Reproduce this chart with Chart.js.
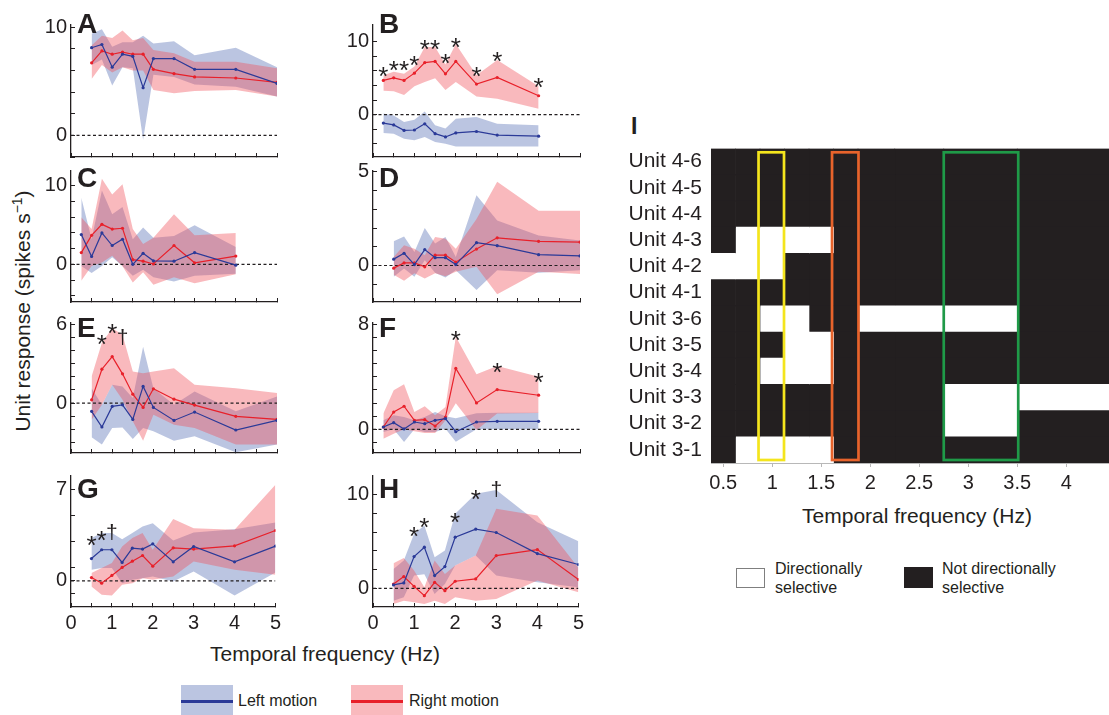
<!DOCTYPE html>
<html>
<head>
<meta charset="utf-8">
<script src="https://cdn.jsdelivr.net/npm/chart.js@4.4.1/dist/chart.umd.min.js"></script>
<style>
  body { margin: 0; background: #fff; }
  #fig { position: relative; width: 1109px; height: 715px; overflow: hidden; background: #fff;
         font-family: "Liberation Sans", Arial, Helvetica, sans-serif; color: #231f20; }
  #fig canvas, .txt, .swatch { position: absolute; }
  .txt { white-space: nowrap; }
  #ytitle { left: 22px; top: 311px; font-size: 21px; line-height: 21px; transform: translate(-50%, -50%) rotate(-90deg); }
  #ytitle sup { font-size: 14px; line-height: 0; vertical-align: 8px; }
  .xtitle { font-size: 21px; line-height: 21px; transform: translateX(-50%); }
  .leg { font-size: 16px; line-height: 20px; }
  .legline { position: absolute; left: 0; right: 0; top: 15px; height: 3px; }
</style>
</head>
<body>
<div id="fig">
  <div class="txt" id="ytitle">Unit response (spikes s<sup>−1</sup>)</div>
  <div class="txt xtitle" style="left:325px; top:643px;">Temporal frequency (Hz)</div>
  <div class="txt xtitle" style="left:917px; top:505px;">Temporal frequency (Hz)</div>
  <div class="txt" style="left:631px; top:115px; font-size:23px; line-height:23px; font-weight:bold;">I</div>

  <div class="swatch" style="left:181px; top:685px; width:52px; height:30px; background:rgba(60,90,170,0.35);">
    <div class="legline" style="background:#2b3a98;"></div>
  </div>
  <div class="txt leg" style="left:238px; top:691px;">Left motion</div>
  <div class="swatch" style="left:351px; top:685px; width:52px; height:30px; background:rgba(240,80,90,0.4);">
    <div class="legline" style="background:#e8202a;"></div>
  </div>
  <div class="txt leg" style="left:409px; top:691px;">Right motion</div>

  <div class="swatch" style="left:736px; top:568px; width:29px; height:20px; box-sizing:border-box; border:1px solid #7f7f7f; background:#fff;"></div>
  <div class="txt leg" style="left:775px; top:559px; line-height:19px;">Directionally<br>selective</div>
  <div class="swatch" style="left:904px; top:567px; width:29px; height:21px; background:#231f20;"></div>
  <div class="txt leg" style="left:942px; top:559px; line-height:19px;">Not directionally<br>selective</div>
</div>
<script>
const INK = "#231f20";
const FONT = '"Liberation Sans", Arial, Helvetica, sans-serif';
const LEFT_LINE = "#2b3a98";
const RIGHT_LINE = "#e8202a";
const LEFT_BAND = "rgba(60, 90, 170, 0.35)";
const RIGHT_BAND = "rgba(240, 80, 90, 0.4)";

Chart.defaults.font.family = FONT;
Chart.defaults.color = INK;

// temporal frequencies (Hz)
const freqHigh = [0.5, 0.75, 1, 1.25, 1.5, 1.75, 2, 2.5, 3, 4, 5];
const freqLow = [0.25, 0.5, 0.75, 1, 1.25, 1.5, 1.75, 2, 2.5, 3, 4];
const xTicks = [0, 0.5, 1, 1.5, 2, 2.5, 3, 3.5, 4, 4.5, 5];
const xLabels = [0, 1, 2, 3, 4, 5];

// A
const aLeftMean = [8.1, 8.4, 6.3, 7.5, 7.3, 4.4, 7.1, 7.1, 6.1, 6.1, 4.8];
const aLeftHi = [9.4, 9.8, 8.2, 8.6, 8.6, 9.2, 8.5, 8.7, 7.4, 8.1, 6.3];
const aLeftLo = [6.5, 7.0, 4.6, 6.3, 6.2, -0.4, 5.6, 5.4, 4.7, 4.5, 3.6];
const aRightMean = [6.7, 7.8, 7.5, 7.7, 7.5, 7.5, 6.1, 5.7, 5.4, 5.3, 4.9];
const aRightHi = [8.3, 9.2, 9.0, 9.7, 8.8, 9.0, 7.9, 7.6, 6.8, 6.8, 6.2];
const aRightLo = [5.2, 6.5, 5.8, 6.3, 6.0, 6.0, 4.2, 3.9, 4.1, 4.2, 3.6];

// B
const bLeftMean = [-1.15, -1.4, -2.15, -2.1, -1.25, -2.6, -3.05, -2.5, -2.3, -2.8, -2.95];
const bLeftHi = [0.15, -0.1, -1.0, -0.7, 0.45, -1.45, -1.9, -0.55, -0.3, -1.25, -1.45];
const bLeftLo = [-2.5, -2.6, -3.3, -3.5, -3.05, -3.75, -4.0, -4.35, -4.35, -4.35, -4.35];
const bRightMean = [4.7, 5.05, 4.7, 5.7, 7.15, 7.3, 5.6, 7.3, 4.2, 5.1, 2.6];
const bRightHi = [5.4, 5.9, 5.6, 6.6, 9.3, 9.3, 6.9, 9.7, 5.4, 7.5, 3.9];
const bRightLo = [3.3, 3.2, 2.7, 3.9, 4.5, 5.0, 3.4, 4.5, 2.5, 2.2, 0.8];
const bSig = [[0.25, 6.1, "*"], [0.5, 6.8, "*"], [0.75, 6.8, "*"], [1, 7.5, "*"], [1.25, 9.8, "*"], [1.5, 9.7, "*"],
              [1.75, 7.8, "*"], [2, 10.0, "*"], [2.5, 6.0, "*"], [3, 8.1, "*"], [4, 4.5, "*"]];

// C
const cLeftMean = [3.8, 1.0, 4.0, 2.4, 3.2, 0.0, 1.4, 0.45, 0.4, 1.5, -0.1];
const cLeftHi = [8.5, 3.2, 9.4, 6.4, 7.3, 3.2, 4.7, 3.4, 3.6, 5.0, 2.2];
const cLeftLo = [-0.2, -1.1, -0.2, 0.9, -0.2, -1.45, -0.7, -1.65, -2.2, -1.45, -1.2];
const cRightMean = [1.5, 3.7, 5.1, 4.5, 4.6, 0.6, 0.4, 0.05, 2.4, 0.2, 1.05];
const cRightHi = [6.0, 4.5, 10.9, 8.9, 10.2, 4.5, 2.6, 3.4, 6.4, 3.7, 4.0];
const cRightLo = [-2.1, -0.2, 0.25, 1.1, -0.25, -2.3, -1.0, -2.6, -1.65, -2.4, -1.25];

// D
const dLeftMean = [0.34, 0.65, 0.05, 0.85, 0.42, 0.42, 0.05, 1.22, 1.06, 0.58, 0.51];
const dLeftHi = [1.29, 1.55, 0.72, 2.01, 1.17, 1.52, 0.46, 3.76, 2.4, 1.61, 1.34];
const dLeftLo = [-0.6, -0.16, -0.6, 0.28, -0.39, -0.64, -0.25, -1.31, -0.25, -0.39, -0.25];
const dRightMean = [-0.14, 0.14, 0.14, -0.07, 0.55, 0.55, 0.18, 0.88, 1.48, 1.29, 1.25];
const dRightHi = [0.46, 1.08, 0.9, 0.55, 1.52, 1.43, 0.9, 2.49, 4.47, 2.93, 2.93];
const dRightLo = [-0.5, -0.81, -0.42, -0.69, -0.42, -0.57, -0.34, -0.07, -1.54, -0.34, -0.46];

// E
const eLeftMean = [-0.63, -1.82, -0.25, -0.13, -1.24, 1.27, -0.33, -1.32, -0.68, -2.05, -1.32];
const eLeftHi = [1.14, -0.13, 1.39, 1.27, 0.38, 4.3, 1.14, -0.13, 0.89, -0.63, 0.51];
const eLeftLo = [-2.61, -3.16, -1.9, -1.85, -2.73, -1.9, -2.15, -2.86, -2.53, -3.75, -3.16];
const eRightMean = [0.25, 2.58, 3.54, 2.23, 0.68, -0.33, 1.09, 0.3, -0.15, -1.01, -1.24];
const eRightHi = [2.03, 4.6, 5.7, 5.2, 2.41, 2.28, 2.41, 2.66, 1.39, 1.14, 0.76];
const eRightLo = [-1.27, -0.13, 1.39, 0.25, -1.39, -2.86, -0.89, -1.65, -1.9, -3.16, -3.16];
const eSig = [[0.75, 4.9, "*"], [1, 5.75, "*"], [1.25, 5.0, "†"]];

// F
const fLeftMean = [0.18, 0.51, 0.03, 0.56, 0.43, 0.69, 0.82, -0.18, 0.56, 0.61, 0.61];
const fLeftHi = [0.69, 1.07, 0.94, 0.69, 0.94, 1.32, 1.0, 0.84, 1.22, 1.27, 1.27];
const fLeftLo = [-0.2, 0.0, -0.97, 0.0, -0.2, -0.2, 0.05, -0.95, 0.0, 0.0, 0.0];
const fRightMean = [0.18, 1.32, 1.76, 0.69, 0.74, 0.25, 0.94, 4.64, 2.01, 3.03, 2.6];
const fRightHi = [1.2, 2.98, 3.44, 1.32, 1.76, 1.07, 1.71, 7.06, 4.2, 4.82, 4.0];
const fRightLo = [-0.71, -0.33, 0.0, -0.15, -0.28, -0.28, 0.7, 1.99, -0.05, 1.2, 1.25];
const fSig = [[2, 7.2, "*"], [3, 4.8, "*"], [4, 4.0, "*"]];

// G
const gLeftMean = [1.7, 2.37, 2.37, 1.4, 2.49, 2.42, 2.82, 1.45, 2.62, 1.45, 2.65];
const gLeftHi = [3.26, 3.64, 3.64, 3.18, 3.64, 4.15, 4.4, 3.08, 3.69, 3.94, 4.45];
const gLeftLo = [0.84, 0.97, 0.97, -0.18, 0.08, 0.2, 0.33, -0.05, 0.71, -1.12, 0.64];
const gRightMean = [0.25, -0.18, 0.41, 1.02, 1.5, 1.93, 1.12, 2.52, 2.42, 2.67, 3.84];
const gRightHi = [0.59, 0.97, 1.35, 2.62, 3.26, 3.64, 2.37, 4.71, 4.02, 3.89, 7.33];
const gRightLo = [-0.43, -1.07, -1.12, -0.31, -0.18, 0.2, 0.08, 0.33, 1.48, 0.84, 0.46];
const gSig = [[0.5, 3.1, "*"], [0.75, 3.5, "*"], [1, 3.65, "†"]];

// H
const hLeftMean = [0.36, 0.57, 3.39, 4.39, 1.36, 2.32, 5.46, 6.32, 5.96, 3.71, 2.54];
const hLeftHi = [2.07, 2.96, 5.82, 6.71, 3.32, 4.04, 7.96, 10.1, 10.5, 7.07, 5.04];
const hLeftLo = [-1.32, -0.96, 1.36, 1.5, -0.61, 0.46, 2.43, 3.5, 1.36, 0.64, 0.11];
const hRightMean = [0.46, 1.25, 0.21, -0.79, 0.64, -0.25, 0.75, 1.0, 3.5, 4.14, 0.93];
const hRightHi = [2.68, 3.25, 1.89, 0.11, 2.96, 1.54, 2.43, 3.5, 8.5, 7.79, 2.2];
const hRightLo = [-1.68, -1.32, -1.5, -1.68, -1.32, -1.68, -0.96, -1.32, -1.14, 0.82, -0.43];
const hSig = [[1, 6.2, "*"], [1.25, 7.1, "*"], [2, 7.7, "*"], [2.5, 10.1, "*"], [3, 10.5, "†"]];

// I: directional selectivity per unit (1 = directionally selective)
const unitLabels = ["Unit 4-6", "Unit 4-5", "Unit 4-4", "Unit 4-3", "Unit 4-2", "Unit 4-1",
                    "Unit 3-6", "Unit 3-5", "Unit 3-4", "Unit 3-3", "Unit 3-2", "Unit 3-1"];
const heatFreqs = [0.5, 0.75, 1, 1.25, 1.5, 1.75, 2, 2.5, 3, 4, 5];
const selective = [
  [0, 0, 0, 0, 0, 0, 0, 0, 0, 0, 0],
  [0, 0, 0, 0, 0, 0, 0, 0, 0, 0, 0],
  [0, 0, 0, 0, 0, 0, 0, 0, 0, 0, 0],
  [0, 1, 1, 1, 1, 0, 0, 0, 0, 0, 0],
  [1, 1, 1, 0, 0, 0, 0, 0, 0, 0, 0],
  [0, 0, 0, 0, 0, 0, 0, 0, 0, 0, 0],
  [0, 0, 1, 1, 0, 0, 1, 1, 1, 0, 0],
  [0, 0, 0, 1, 1, 0, 0, 0, 0, 0, 0],
  [0, 0, 1, 1, 1, 0, 0, 0, 0, 0, 0],
  [0, 0, 0, 0, 0, 0, 0, 0, 1, 1, 1],
  [0, 0, 0, 0, 0, 0, 0, 0, 1, 0, 0],
  [0, 1, 1, 1, 1, 0, 0, 0, 0, 0, 0],
];
const heatTicks = [0.5, 1, 1.5, 2, 2.5, 3, 3.5, 4];
const boxFrom = [0.86, 1.61, 2.75];
const boxTo = [1.12, 1.88, 3.51];
const boxColor = ["#f4e51d", "#e8632b", "#1f9a48"];

const AXIS_W = 60;
const AXIS_H = 45;
const PAD_T = 25;
const PAD_R = 12;

const panels = [
  { letter: "A", x: freqHigh, lm: aLeftMean, lh: aLeftHi, ll: aLeftLo, rm: aRightMean, rh: aRightHi, rl: aRightLo, sig: [],
    min: -2, max: 10.2, ticks: [-2, 0, 2, 4, 6, 8, 10], labels: [0, 10], left: 71, right: 277, top: 25, bottom: 157, letterDy: 8 },
  { letter: "B", x: freqLow, lm: bLeftMean, lh: bLeftHi, ll: bLeftLo, rm: bRightMean, rh: bRightHi, rl: bRightLo, sig: bSig,
    min: -5.8, max: 12.3, ticks: [-4, -2, 0, 2, 4, 6, 8, 10], labels: [0, 10], left: 373, right: 580, top: 25, bottom: 157, letterDy: 8 },
  { letter: "C", x: freqLow, lm: cLeftMean, lh: cLeftHi, ll: cLeftLo, rm: cRightMean, rh: cRightHi, rl: cRightLo, sig: [],
    min: -4.8, max: 11.9, ticks: [-4, -2, 0, 2, 4, 6, 8, 10], labels: [0, 10], left: 71, right: 277, top: 171, bottom: 302, letterDy: 15.5 },
  { letter: "D", x: freqHigh, lm: dLeftMean, lh: dLeftHi, ll: dLeftLo, rm: dRightMean, rh: dRightHi, rl: dRightLo, sig: [],
    min: -1.95, max: 5.05, ticks: [-1, 0, 1, 2, 3, 4, 5], labels: [0, 5], left: 373, right: 580, top: 171, bottom: 302, letterDy: 15.5 },
  { letter: "E", x: freqHigh, lm: eLeftMean, lh: eLeftHi, ll: eLeftLo, rm: eRightMean, rh: eRightHi, rl: eRightLo, sig: eSig,
    min: -3.8, max: 6.1, ticks: [-3, -2, -1, 0, 1, 2, 3, 4, 5, 6], labels: [0, 6], left: 71, right: 277, top: 323, bottom: 453, letterDy: 14 },
  { letter: "F", x: freqLow, lm: fLeftMean, lh: fLeftHi, ll: fLeftLo, rm: fRightMean, rh: fRightHi, rl: fRightLo, sig: fSig,
    min: -1.8, max: 8.1, ticks: [-1, 0, 1, 2, 3, 4, 5, 6, 7, 8], labels: [0, 8], left: 373, right: 580, top: 323, bottom: 453, letterDy: 14 },
  { letter: "G", x: freqHigh, lm: gLeftMean, lh: gLeftHi, ll: gLeftLo, rm: gRightMean, rh: gRightHi, rl: gRightLo, sig: gSig,
    min: -2, max: 8, ticks: [-1, 0, 1, 3, 5, 7], labels: [0, 7], left: 71, right: 277, top: 476, bottom: 607, letterDy: 22, xLabels: true },
  { letter: "H", x: freqHigh, lm: hLeftMean, lh: hLeftHi, ll: hLeftLo, rm: hRightMean, rh: hRightHi, rl: hRightLo, sig: hSig,
    min: -2, max: 12, ticks: [0, 2, 4, 6, 8, 10], labels: [0, 10], left: 373, right: 580, top: 476, bottom: 607, letterDy: 22, xLabels: true },
];

const fig = document.getElementById("fig");

function toPoints(xs, ys) {
    return xs.map((x, i) => ({ x: x, y: ys[i] }));
}

function addCanvas(left, top, width, height) {
    const canvas = document.createElement("canvas");
    canvas.width = width;
    canvas.height = height;
    canvas.style.left = left + "px";
    canvas.style.top = top + "px";
    canvas.style.width = width + "px";
    canvas.style.height = height + "px";
    fig.appendChild(canvas);
    return canvas;
}

// panel letter and significance marks (* / †)
function panelMarks(p) {
    return {
        id: "panelMarks",
        afterDraw(chart) {
            const { ctx, chartArea, scales } = chart;
            ctx.save();
            ctx.fillStyle = INK;
            ctx.textBaseline = "alphabetic";
            ctx.textAlign = "left";
            ctx.font = "bold 28px " + FONT;
            ctx.fillText(p.letter, chartArea.left + 6, chartArea.top + p.letterDy);
            ctx.textAlign = "center";
            p.sig.forEach(([f, v, s]) => {
                const size = s === "*" ? 26 : 21;
                const shift = s === "*" ? 0.55 : 0.29;
                ctx.font = size + "px " + FONT;
                ctx.fillText(s, scales.x.getPixelForValue(f), scales.y.getPixelForValue(v) + size * shift);
            });
            ctx.restore();
        },
    };
}

function band(xs, ys, order, fill, color) {
    return {
        data: toPoints(xs, ys),
        borderColor: "rgba(0,0,0,0)",
        borderWidth: 1,
        backgroundColor: color || "rgba(0,0,0,0)",
        pointRadius: 0,
        fill: fill,
        order: order,
    };
}

function meanLine(xs, ys, color) {
    return {
        data: toPoints(xs, ys),
        borderColor: color,
        backgroundColor: color,
        borderWidth: 1.2,
        pointRadius: 1.6,
        pointBorderWidth: 0,
        fill: false,
        order: 0,
    };
}

function makePanel(p) {
    const canvas = addCanvas(
        p.left - AXIS_W,
        p.top - PAD_T,
        AXIS_W + p.right - p.left + PAD_R,
        PAD_T + p.bottom - p.top + AXIS_H
    );

    new Chart(canvas, {
        type: "line",
        data: {
            datasets: [
                meanLine(p.x, p.lm, LEFT_LINE),
                meanLine(p.x, p.rm, RIGHT_LINE),
                {
                    data: [{ x: 0, y: 0 }, { x: 5, y: 0 }],
                    borderColor: INK,
                    borderWidth: 1.2,
                    borderDash: [3, 2.5],
                    pointRadius: 0,
                    fill: false,
                    order: 0,
                },
                band(p.x, p.ll, 3, false),
                band(p.x, p.lh, 3, 3, LEFT_BAND),
                band(p.x, p.rl, 2, false),
                band(p.x, p.rh, 2, 5, RIGHT_BAND),
            ],
        },
        options: {
            responsive: false,
            animation: false,
            events: [],
            layout: { padding: { top: PAD_T, right: PAD_R, left: 0, bottom: 0 }, autoPadding: false },
            elements: { line: { tension: 0 } },
            scales: {
                x: {
                    type: "linear",
                    min: 0,
                    max: 5,
                    afterFit: (s) => { s.height = AXIS_H; },
                    afterBuildTicks: (s) => { s.ticks = xTicks.map((v) => ({ value: v })); },
                    ticks: {
                        display: !!p.xLabels,
                        padding: 8,
                        color: INK,
                        font: { size: 20 },
                        maxRotation: 0,
                        autoSkip: false,
                        callback: (v) => (xLabels.includes(v) ? String(v) : ""),
                    },
                    grid: { drawOnChartArea: false, tickLength: -4, color: INK, lineWidth: 1 },
                    border: { color: INK, width: 1.3 },
                },
                y: {
                    type: "linear",
                    min: p.min,
                    max: p.max,
                    afterFit: (s) => { s.width = AXIS_W; },
                    afterBuildTicks: (s) => { s.ticks = p.ticks.map((v) => ({ value: v })); },
                    ticks: {
                        padding: 8,
                        color: INK,
                        font: { size: 20 },
                        autoSkip: false,
                        callback: (v) => (p.labels.includes(v) ? String(v) : ""),
                    },
                    grid: { drawOnChartArea: false, tickLength: -4, color: INK, lineWidth: 1 },
                    border: { color: INK, width: 1.3 },
                },
            },
            plugins: { legend: { display: false }, tooltip: { enabled: false } },
        },
        plugins: [panelMarks(p)],
    });
}

panels.forEach(makePanel);

// heat map (panel I)
const heatEdges = heatFreqs.map((f, i) => {
    if (i === 0) return f - (heatFreqs[1] - f) / 2;
    return (heatFreqs[i - 1] + f) / 2;
});
heatEdges.push(heatFreqs[heatFreqs.length - 1] + (heatFreqs[heatFreqs.length - 1] - heatFreqs[heatFreqs.length - 2]) / 2);

const heatBoxes = {
    id: "heatBoxes",
    afterDatasetsDraw(chart) {
        const { ctx, scales } = chart;
        const top = scales.y.getPixelForValue(-0.5) + 3.7;
        const bottom = scales.y.getPixelForValue(unitLabels.length - 0.5) - 3;
        ctx.save();
        ctx.lineWidth = 2.7;
        boxFrom.forEach((from, i) => {
            const x0 = scales.x.getPixelForValue(from);
            const x1 = scales.x.getPixelForValue(boxTo[i]);
            ctx.strokeStyle = boxColor[i];
            ctx.strokeRect(x0, top, x1 - x0, bottom - top);
        });
        ctx.restore();
    },
};

// the category axis keeps half a label height above the first row
const HEAT_W = 398;
const HEAT_LABEL_W = 110;
const HEAT_LABEL_PAD = 12.6;
const heatCanvas = addCanvas(711 - HEAT_LABEL_W, Math.round(148 - 8 - HEAT_LABEL_PAD),
                             HEAT_LABEL_W + HEAT_W, Math.round(8 + HEAT_LABEL_PAD + 315 + AXIS_H));

new Chart(heatCanvas, {
    type: "bar",
    data: {
        labels: unitLabels,
        datasets: heatFreqs.map((f, c) => ({
            data: unitLabels.map(() => [heatEdges[c], heatEdges[c + 1]]),
            backgroundColor: selective.map((row) => (row[c] ? "#ffffff" : INK)),
            borderWidth: 0,
            barPercentage: 1,
            categoryPercentage: 1,
            grouped: false,
        })),
    },
    options: {
        indexAxis: "y",
        responsive: false,
        animation: false,
        events: [],
        layout: { padding: { top: 8, right: 0, left: 0, bottom: 0 }, autoPadding: false },
        scales: {
            x: {
                type: "linear",
                min: heatEdges[0],
                max: heatEdges[0] + HEAT_W / 98,
                afterFit: (s) => { s.height = AXIS_H; },
                afterBuildTicks: (s) => { s.ticks = heatTicks.map((v) => ({ value: v })); },
                ticks: { padding: 4, color: INK, font: { size: 20 }, maxRotation: 0, autoSkip: false, callback: (v) => String(v) },
                grid: { drawOnChartArea: false, tickLength: 4, color: "#b8b8b8", lineWidth: 1 },
                border: { color: "#b8b8b8", width: 1 },
            },
            y: {
                type: "category",
                afterFit: (s) => { s.width = HEAT_LABEL_W; },
                ticks: { padding: 9, color: INK, font: { size: 21 }, autoSkip: false },
                grid: { display: false, drawTicks: false },
                border: { display: false },
            },
        },
        plugins: { legend: { display: false }, tooltip: { enabled: false } },
    },
    plugins: [heatBoxes],
});
</script>
</body>
</html>
